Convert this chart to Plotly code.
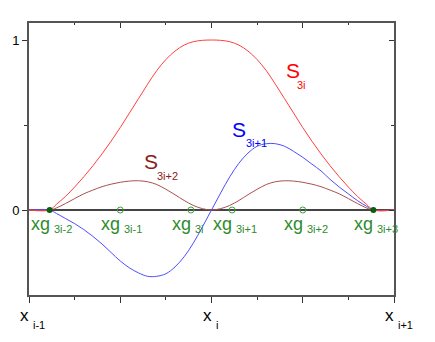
import plotly.graph_objects as go

# sample positions across the element [x_{i-1}, x_{i+1}]
x_vals = [-1.0, -0.887, -0.85, -0.8, -0.75, -0.7, -0.65, -0.6, -0.55, -0.5, -0.45, -0.4, -0.35, -0.3,
          -0.25, -0.2, -0.15, -0.1, -0.05, 0.0,
          0.05, 0.1, 0.15, 0.2, 0.25, 0.3, 0.35, 0.4, 0.45, 0.5, 0.55, 0.6, 0.65, 0.7, 0.75,
          0.8, 0.85, 0.887, 1.0]

# shape functions
s_3i = [0, 0, 0.033, 0.08, 0.135, 0.195, 0.26, 0.33, 0.405, 0.485, 0.57, 0.655, 0.74, 0.82,
        0.885, 0.935, 0.97, 0.99, 0.998, 1.0,
        0.998, 0.99, 0.97, 0.935, 0.885, 0.82, 0.74, 0.655, 0.57, 0.485, 0.405, 0.33, 0.26, 0.195, 0.135,
        0.08, 0.033, 0, 0]
s_3i1 = [0, 0, -0.02, -0.05, -0.08, -0.115, -0.155, -0.2, -0.25, -0.3, -0.34, -0.37, -0.39, -0.39,
         -0.375, -0.335, -0.275, -0.195, -0.1, 0.0,
         0.1, 0.195, 0.275, 0.335, 0.375, 0.39, 0.39, 0.375, 0.345, 0.31, 0.27, 0.23, 0.18, 0.135, 0.095,
         0.055, 0.022, 0, 0]
s_3i2 = [0, 0, 0.012, 0.038, 0.067, 0.095, 0.117, 0.137, 0.152, 0.163, 0.17, 0.172, 0.166, 0.15,
         0.122, 0.09, 0.056, 0.027, 0.008, 0.0,
         0.008, 0.027, 0.056, 0.09, 0.122, 0.15, 0.166, 0.172, 0.17, 0.163, 0.152, 0.137, 0.117, 0.095, 0.067,
         0.038, 0.012, 0, 0]

# gauss points
xg_vals = [-0.887, -0.5, -0.113, 0.113, 0.5, 0.887]
xg_subs = ['3i-2', '3i-1', '3i', '3i+1', '3i+2', '3i+3']
xg_filled = [True, False, False, False, False, True]

# node tick labels
node_vals = [-1, 0, 1]
node_subs = ['i-1', 'i', 'i+1']

FONT = 'Liberation Sans Narrow, Arial Narrow, Liberation Sans, Arial'
GREEN = '#2e8b2e'
AXIS = '#555555'

fig = go.Figure()

line_style = dict(width=1, shape='spline', smoothing=1.0)
fig.add_trace(go.Scatter(x=x_vals, y=s_3i1, mode='lines', line=dict(color='#4d4dff', **line_style)))
fig.add_trace(go.Scatter(x=x_vals, y=s_3i2, mode='lines', line=dict(color='#a85050', **line_style)))
fig.add_trace(go.Scatter(x=x_vals, y=s_3i, mode='lines', line=dict(color='#ff4040', **line_style)))

# gauss point markers
open_x = [v for v, f in zip(xg_vals, xg_filled) if not f]
fill_x = [v for v, f in zip(xg_vals, xg_filled) if f]
fig.add_trace(go.Scatter(x=open_x, y=[0] * len(open_x), mode='markers',
                         marker=dict(symbol='circle-open', size=6, color='#3aa03a', line=dict(width=1))))
fig.add_trace(go.Scatter(x=fill_x, y=[0] * len(fill_x), mode='markers',
                         marker=dict(symbol='circle', size=6, color='#0b5e0b')))

# dummy trace so the top/right axes get drawn
fig.add_trace(go.Scatter(x=[None], y=[None], xaxis='x2', yaxis='y2', showlegend=False))

ann = []
# gauss point labels
for v, s in zip(xg_vals, xg_subs):
    ann.append(dict(x=v, y=0, xref='x', yref='y', text='xg', showarrow=False,
                    xanchor='right', yanchor='middle', xshift=2, yshift=-14,
                    font=dict(family=FONT, size=18, color=GREEN)))
    ann.append(dict(x=v, y=0, xref='x', yref='y', text=s, showarrow=False,
                    xanchor='left', yanchor='middle', xshift=2, yshift=-19,
                    font=dict(family=FONT, size=11, color=GREEN)))

# node labels under the axis
for v, s in zip(node_vals, node_subs):
    ann.append(dict(x=v, y=0, xref='x', yref='paper', text='x', showarrow=False,
                    xanchor='right', yanchor='middle', xshift=2, yshift=-20,
                    font=dict(family=FONT, size=17, color='black')))
    ann.append(dict(x=v, y=0, xref='x', yref='paper', text=s, showarrow=False,
                    xanchor='left', yanchor='middle', xshift=2, yshift=-30,
                    font=dict(family=FONT, size=11, color='black')))

# curve labels: (x, y, sub-x, sub-y, subscript, colour)
curve_labels = [
    (0.444, 0.82, 0.458, 0.735, '3i', '#ff0000'),
    (0.151, 0.473, 0.176, 0.397, '3i+1', '#0000ff'),
    (-0.334, 0.287, -0.312, 0.2, '3i+2', '#8b1a1a'),
]
for lx, ly, sx, sy, s, c in curve_labels:
    ann.append(dict(x=lx, y=ly, xref='x', yref='y', text='S', showarrow=False,
                    xanchor='center', yanchor='middle',
                    font=dict(family=FONT, size=21, color=c)))
    ann.append(dict(x=sx, y=sy, xref='x', yref='y', text=s, showarrow=False,
                    xanchor='left', yanchor='middle',
                    font=dict(family=FONT, size=11, color=c)))

# page body has an 8px margin, so the figure is a bit smaller than the window
fig.update_layout(
    width=427, height=334,
    margin=dict(l=21, r=41, t=15, b=47, autoexpand=False),
    paper_bgcolor='white', plot_bgcolor='white',
    showlegend=False,
    annotations=ann,
    xaxis=dict(range=[-1, 1], showgrid=False, zeroline=False, showline=True,
               linecolor=AXIS, linewidth=1.5, ticks='outside', ticklen=6,
               tickcolor='#333', tickvals=[-1, -0.5, 0, 0.5, 1], showticklabels=False,
               minor=dict(tickvals=[-0.75, -0.25, 0.25, 0.75], ticks='outside', ticklen=3, tickcolor='#333')),
    xaxis2=dict(range=[-1, 1], overlaying='x', side='top', anchor='y2', showgrid=False,
                zeroline=False, showline=True, linecolor=AXIS, linewidth=1.5,
                ticks='inside', ticklen=5, tickcolor='#333', tickvals=[-1, -0.5, 0, 0.5, 1],
                showticklabels=False,
                minor=dict(tickvals=[-0.75, -0.25, 0.25, 0.75], ticks='inside', ticklen=2, tickcolor='#333')),
    yaxis=dict(range=[-0.5, 1.1], showgrid=False, zeroline=True, zerolinecolor='#444',
               zerolinewidth=2, showline=True, linecolor=AXIS, linewidth=2,
               ticks='outside', ticklen=5, tickcolor='#333', tickvals=[0, 1],
               tickfont=dict(family='Liberation Sans, Arial', size=13, color='black'),
               minor=dict(tickvals=[0.5], ticks='outside', ticklen=3, tickcolor='#333')),
    yaxis2=dict(range=[-0.5, 1.1], overlaying='y', side='right', anchor='x2', showgrid=False,
                zeroline=False, showline=True, linecolor=AXIS, linewidth=1.5,
                ticks='inside', ticklen=5, tickcolor='#333', tickvals=[0, 1],
                showticklabels=False,
                minor=dict(tickvals=[0.5], ticks='inside', ticklen=3, tickcolor='#333')),
)

fig.write_html("out.html")
